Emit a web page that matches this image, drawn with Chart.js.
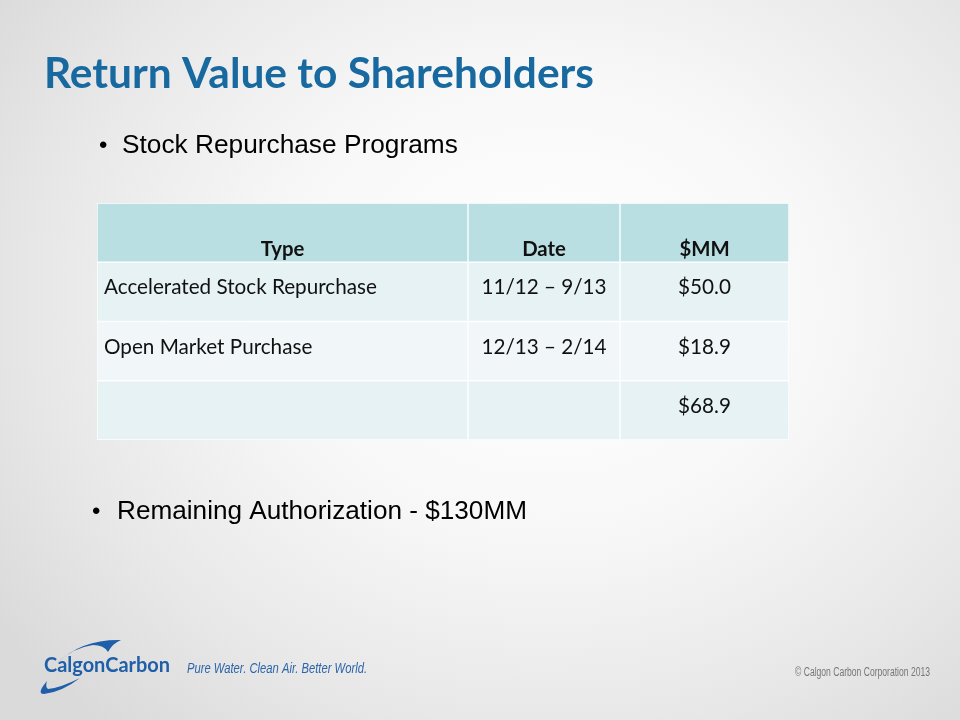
<!DOCTYPE html>
<html>
<head>
<meta charset="utf-8">
<title>Return Value to Shareholders</title>
<script src="https://cdn.jsdelivr.net/npm/chart.js@4/dist/chart.umd.min.js"></script>
<style>
  html, body { margin: 0; padding: 0; }
  body {
    width: 960px; height: 720px; overflow: hidden; position: relative;
    background: radial-gradient(ellipse 70% 78% at 57% 42%, #ffffff 0%, #f8f8f8 40%, #e8e8e8 75%, #dadada 100%);
  }
  #slide { position: absolute; left: 0; top: 0; }
</style>
</head>
<body>
<canvas id="slide" width="960" height="720"></canvas>
<script>

// table content
var headers = ['Type', 'Date', '$MM'];
var types = ['Accelerated Stock Repurchase', 'Open Market Purchase', ''];
var dates = ['11/12 \u2013 9/13', '12/13 \u2013 2/14', ''];
var amounts = [50.0, 18.9, 68.9];
var rowLabels = ['header'].concat(types);

// layout of the table (pixels)
var colWidths = [371, 152, 169];
var rowColors = ['#badfe3', '#e6f2f4', '#f1f7f9', '#e6f2f4'];

function fitFont(ctx, text, target, weight, family) {
  ctx.font = weight + ' 20px ' + family;
  var size = 20 * target / ctx.measureText(text).width;
  return weight + ' ' + size.toFixed(2) + 'px ' + family;
}

// draw text at a fixed size, squeezed sideways to a target width
function drawSqueezed(ctx, text, x, y, font, target) {
  ctx.font = font;
  var k = target / ctx.measureText(text).width;
  ctx.save();
  ctx.translate(x, y);
  ctx.scale(k, 1);
  ctx.fillText(text, 0, 0);
  ctx.restore();
}

function cellText(r, c) {
  if (r === 0) return headers[c];
  if (c === 0) return types[r - 1];
  if (c === 1) return dates[r - 1];
  return '$' + amounts[r - 1].toFixed(1);
}

var tableText = {
  id: 'tableText',
  afterDatasetsDraw: function (chart) {
    var ctx = chart.ctx;
    ctx.save();
    var headFont = fitFont(ctx, 'Accelerated Stock Repurchase', 273, '700', 'Lato');
    var bodyFont = fitFont(ctx, 'Accelerated Stock Repurchase', 273, '400', 'Lato');
    ctx.fillStyle = '#111111';
    ctx.textBaseline = 'alphabetic';
    chart.data.datasets.forEach(function (ds, c) {
      var meta = chart.getDatasetMeta(c);
      meta.data.forEach(function (bar, r) {
        var p = bar.getProps(['x', 'y', 'base', 'height'], true);
        var left = Math.min(p.x, p.base), right = Math.max(p.x, p.base);
        var top = p.y - p.height / 2, bottom = p.y + p.height / 2;
        var txt = cellText(r, c);
        if (r === 0) {
          ctx.font = headFont;
          ctx.textAlign = 'center';
          ctx.fillText(txt, (left + right) / 2, bottom - 6);
        } else {
          ctx.font = bodyFont;
          if (c === 0) {
            ctx.textAlign = 'left';
            ctx.fillText(txt, left + 7, top + 32);
          } else {
            ctx.textAlign = 'center';
            ctx.fillText(txt, (left + right) / 2, top + 32);
          }
        }
      });
    });
    ctx.restore();
  }
};

var slideText = {
  id: 'slideText',
  afterDraw: function (chart) {
    var ctx = chart.ctx;
    ctx.save();
    ctx.textBaseline = 'alphabetic';
    ctx.textAlign = 'left';

    // title
    ctx.fillStyle = '#17699f';
    drawSqueezed(ctx, 'Return Value to Shareholders', 44, 88, '700 42px Lato', 550);

    // bullets
    ctx.fillStyle = '#000000';
    ctx.font = '400 24px "Liberation Sans", Arial, sans-serif';
    ctx.fillText('\u2022', 99, 153);
    ctx.font = fitFont(ctx, 'Stock Repurchase Programs', 336, '400', '"Liberation Sans", Arial, sans-serif');
    ctx.fillText('Stock Repurchase Programs', 122, 153);

    ctx.font = '400 24px "Liberation Sans", Arial, sans-serif';
    ctx.fillText('\u2022', 92, 519);
    ctx.font = fitFont(ctx, 'Remaining Authorization - $130MM', 410, '400', '"Liberation Sans", Arial, sans-serif');
    ctx.fillText('Remaining Authorization - $130MM', 117, 519);

    // footer
    ctx.fillStyle = '#777777';
    drawSqueezed(ctx, '\u00a9 Calgon Carbon Corporation 2013', 795, 676, '400 12px "Liberation Sans", Arial, sans-serif', 135);

    // logo
    ctx.fillStyle = '#1f5ea8';
    ctx.beginPath();
    ctx.moveTo(57, 663);
    ctx.quadraticCurveTo(82, 639, 121, 640);
    ctx.quadraticCurveTo(113, 643, 108, 652);
    ctx.quadraticCurveTo(104, 645, 93, 645);
    ctx.quadraticCurveTo(72, 648, 57, 663);
    ctx.fill();
    ctx.beginPath();
    ctx.moveTo(47, 681);
    ctx.quadraticCurveTo(36, 694, 44, 694);
    ctx.quadraticCurveTo(62, 692, 80, 678);
    ctx.quadraticCurveTo(60, 688, 48, 689);
    ctx.quadraticCurveTo(45, 687, 47, 681);
    ctx.fill();
    drawSqueezed(ctx, 'CalgonCarbon', 44, 672, '700 21px Lato', 126);

    ctx.fillStyle = '#2c64ab';
    drawSqueezed(ctx, 'Pure Water. Clean Air. Better World.', 187, 673, 'italic 400 15px "Liberation Sans", sans-serif', 180);
    ctx.restore();
  }
};

var datasets = colWidths.map(function (w, c) {
  return {
    label: headers[c],
    data: rowLabels.map(function () { return w; }),
    backgroundColor: rowColors,
    borderColor: '#ffffff',
    borderWidth: 1,
    borderSkipped: false,
    categoryPercentage: 1,
    barPercentage: 1
  };
});

var totalWidth = colWidths.reduce(function (a, b) { return a + b; }, 0);

new Chart(document.getElementById('slide'), {
  type: 'bar',
  data: { labels: rowLabels, datasets: datasets },
  options: {
    indexAxis: 'y',
    responsive: false,
    animation: false,
    events: [],
    layout: { padding: { left: 97, right: 171, top: 203, bottom: 280 } },
    scales: {
      x: { stacked: true, display: false, min: 0, max: totalWidth },
      y: { stacked: true, display: false }
    },
    plugins: { legend: { display: false }, tooltip: { enabled: false } }
  },
  plugins: [tableText, slideText]
});
</script>
</body>
</html>
